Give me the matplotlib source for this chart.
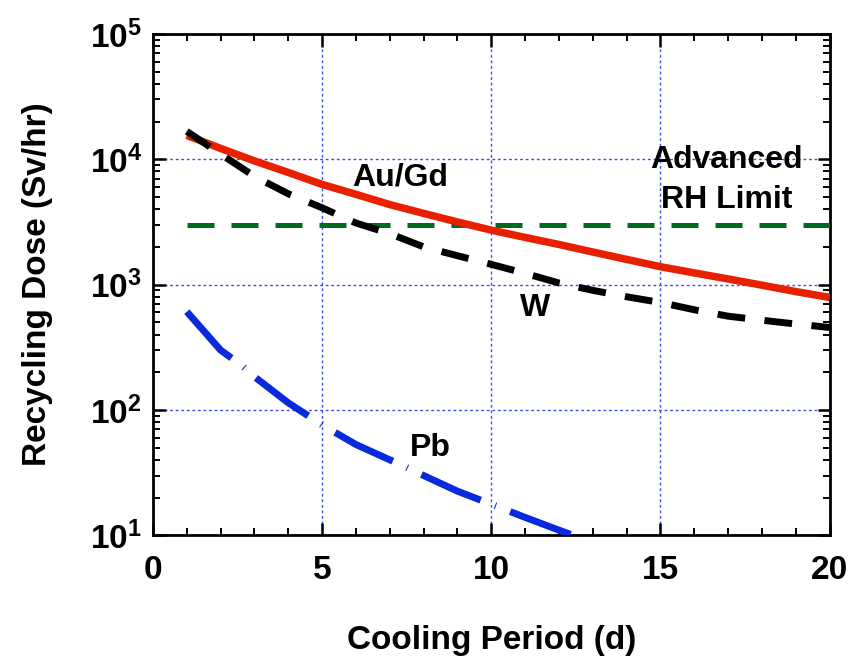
import matplotlib
matplotlib.use('Agg')
import matplotlib.pyplot as plt
from matplotlib.ticker import FixedLocator, FixedFormatter, LogLocator, MultipleLocator, NullFormatter

FONT, FS = 'Liberation Sans', 24
plt.rcParams['font.family'] = [FONT, 'DejaVu Sans']
plt.rcParams['font.weight'] = 'bold'
plt.rcParams['mathtext.fontset'] = 'custom'
plt.rcParams['mathtext.rm'] = FONT + ':bold'
plt.rcParams['mathtext.bf'] = FONT + ':bold'

# Cooling period (d) and recycling dose (Sv/hr)
days = [1, 2, 3, 4, 5, 6, 7, 8, 9, 10, 11, 12, 13, 14, 15, 16, 17, 18, 19, 20]
dose_augd = [15500, 12200, 9700, 7850, 6300, 5250, 4350, 3700, 3160, 2720,
             2380, 2090, 1820, 1590, 1390, 1240, 1110, 990, 880, 790]
dose_w = [16700, 11000, 7300, 5300, 4100, 3100, 2550, 2000, 1700, 1450,
          1230, 1030, 900, 800, 720, 630, 560, 520, 485, 455]
days_pb = [1, 2, 2.6, 3, 4, 5, 6, 7, 8, 9, 10, 11, 12, 12.6]
dose_pb = [608, 300, 229, 184, 114, 76, 53, 40, 30, 22.5, 17.7, 13.9, 11, 9.6]
rh_limit = 3000
limit_days = [1, 20]

xticks = [0, 5, 10, 15, 20]
yticks = [1e1, 1e2, 1e3, 1e4, 1e5]
ytick_labels = [r'$\mathbf{10^{1}}$', r'$\mathbf{10^{2}}$', r'$\mathbf{10^{3}}$',
                r'$\mathbf{10^{4}}$', r'$\mathbf{10^{5}}$']

fig = plt.figure(figsize=(8.5, 6.65), dpi=100)
ax = fig.add_axes([0.18, 0.195, 0.796, 0.754])

GRID = '#3a50e6'
ax.set_yscale('log')
ax.set_xlim(0, 20)
ax.set_ylim(10, 1e5)

# dotted blue grid at major ticks only
ax.grid(True, which='major', color=GRID, linestyle=(0, (2, 2)), linewidth=1.0, zorder=0)

ax.plot(limit_days, [rh_limit, rh_limit], color='#006b1e', linewidth=3.6,
        linestyle=(0, (5.4, 3.4)), dash_capstyle='butt', zorder=3)
ax.plot(days, dose_augd, color='#e82000', linewidth=5.4, solid_capstyle='butt', zorder=4)
ax.plot(days, dose_w, color='black', linewidth=5.0,
        linestyle=(0, (4.0, 2.8)), dash_capstyle='butt', zorder=5)
ax.plot(days_pb, dose_pb, color='#0a28dc', linewidth=5.0,
        linestyle=(0, (9.3, 2.2, 0.15, 2.2)), dash_capstyle='butt', zorder=4)

TS = 23
ax.text(7.3, 7200, 'Au/Gd', ha='center', va='center', fontsize=TS, fontweight='bold')
ax.text(16.95, 9800, 'Advanced', ha='center', va='center', fontsize=TS, fontweight='bold')
ax.text(16.95, 4700, 'RH Limit', ha='center', va='center', fontsize=TS, fontweight='bold')
ax.text(11.3, 650, 'W', ha='center', va='center', fontsize=TS, fontweight='bold')
ax.text(8.2, 50, 'Pb', ha='center', va='center', fontsize=TS, fontweight='bold')

ax.xaxis.set_major_locator(FixedLocator(xticks))
ax.xaxis.set_minor_locator(MultipleLocator(1))
ax.yaxis.set_major_locator(FixedLocator(yticks))
ax.yaxis.set_major_formatter(FixedFormatter(ytick_labels))
ax.yaxis.set_minor_locator(LogLocator(base=10, subs=range(2, 10)))
ax.yaxis.set_minor_formatter(NullFormatter())

ax.tick_params(which='both', direction='in', top=True, right=True, colors='black')
ax.tick_params(which='major', length=9, width=1.8, labelsize=FS, pad=14)
ax.tick_params(which='minor', length=5, width=1.4)
ax.tick_params(axis='y', which='major', pad=8)
for s in ax.spines.values():
    s.set_linewidth(2.0)

ax.set_xlabel('Cooling Period (d)', fontsize=FS, fontweight='bold', labelpad=28)
ax.set_ylabel('Recycling Dose (Sv/hr)', fontsize=FS, fontweight='bold', labelpad=26)

fig.savefig('out.png', dpi=100)
